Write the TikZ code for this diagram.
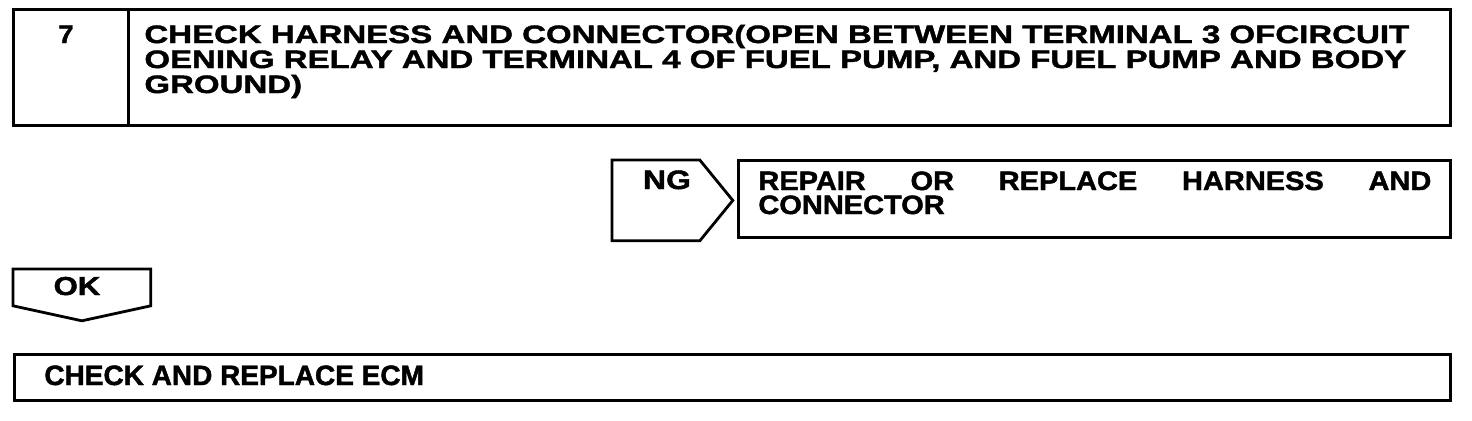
\documentclass[tikz,border=0pt]{standalone}
\usepackage{fontspec}
\newfontfamily\stepfont{Liberation Sans}[BoldFeatures={FakeBold=1.6}]
\usetikzlibrary{positioning, calc}

\begin{document}
\begin{tikzpicture}[x=0.5pt, y=-0.5pt, line width=1.4pt,
    box/.style={draw, inner sep=0pt, anchor=north west},
    tag/.style={inner sep=0pt, anchor=north west},
    txt/.style n args={2}{inner sep=0pt, anchor=base west,
      font=\stepfont\bfseries\fontsize{#1}{#1}\selectfont
        \addfontfeatures{FakeStretch=#2}}]
  \useasboundingbox (0,0) rectangle (1472,420);
  % step header
  \node[box, minimum width=57.5pt, minimum height=58pt] (num) at (12,8) {};
  \node[box, minimum width=661pt, minimum height=58pt] (title) at (127,8) {};
  \node[txt={12.6}{1.1}, anchor=base] (numtxt) at (66,43) {7};
  \foreach \t [count=\i] in {{CHECK HARNESS AND CONNECTOR(OPEN BETWEEN TERMINAL 3 OFCIRCUIT},
      {OENING RELAY AND TERMINAL 4 OF FUEL PUMP, AND FUEL PUMP AND BODY},
      {GROUND)}}
    \node[txt={12.6}{1.31}] (line\i) at (143,18+25*\i) {\t};
  % NG branch
  \node[tag, minimum width=42.5pt, minimum height=39pt] (ng) at (612,160) {};
  \draw (ng.north west) -- (ng.north east) -- ($(ng.east)+(33,0)$)
    -- (ng.south east) -- (ng.south west) -- cycle;
  \node[txt={13.3}{1.2}, anchor=base] (ngtxt) at (667,189) {NG};
  \node[box, minimum width=356pt, minimum height=38.5pt] (repair) at (737,159) {};
  \node[txt={13.3}{1.09}] (rep1) at (757,190)
    {\makebox[336.5pt][s]{REPAIR\hfill OR\hfill REPLACE\hfill HARNESS\hfill AND}};
  \node[txt={13.3}{1.09}] (rep2) at (757,214) {CONNECTOR};
  % OK branch
  \node[tag, minimum width=67.5pt, minimum height=17pt] (ok) at (13,269) {};
  \draw (ok.south west) -- (ok.north west) -- (ok.north east) -- (ok.south east)
    -- ($(ok.south)+(0,15)$) -- cycle;
  \node[txt={13}{1.2}, anchor=base] (oktxt) at (77,295) {OK};
  \node[box, minimum width=718pt, minimum height=23pt] (ecm) at (13,353) {};
  \node[txt={14}{1.0}] (ecmtxt) at (43,385) {CHECK AND REPLACE ECM};
\end{tikzpicture}
\end{document}
